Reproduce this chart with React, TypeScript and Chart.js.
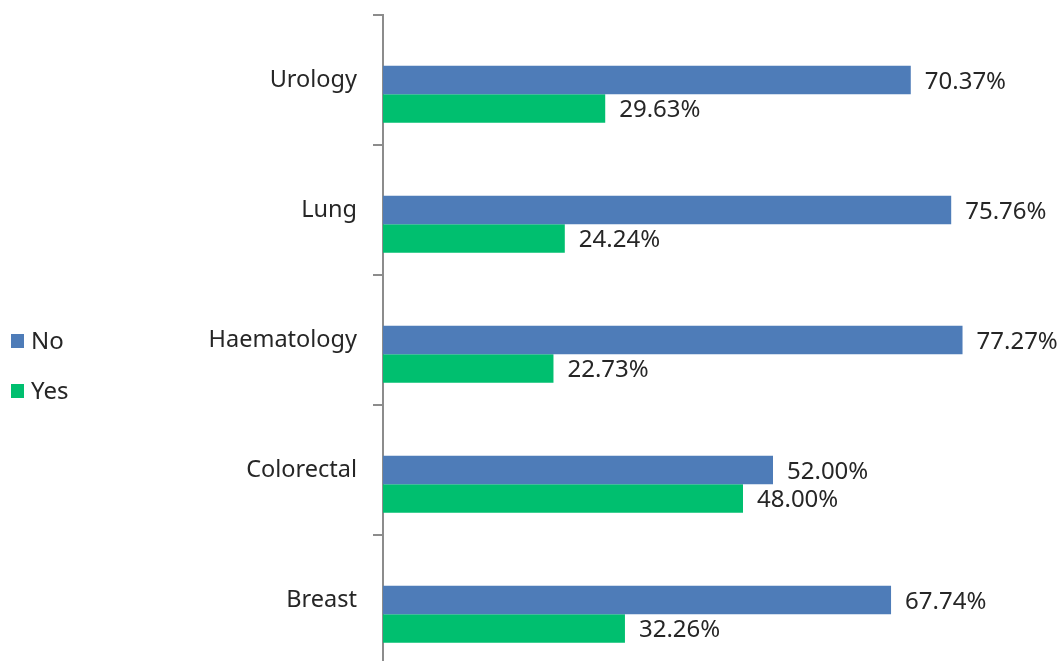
import React, { useEffect, useRef } from 'react';
import { Chart, registerables } from 'chart.js';

Chart.register(...registerables);

const categories = ['Urology', 'Lung', 'Haematology', 'Colorectal', 'Breast'];
const noValues = [70.37, 75.76, 77.27, 52.0, 67.74];
const yesValues = [29.63, 24.24, 22.73, 48.0, 32.26];
const seriesLabels = ['No', 'Yes'];

const BLUE = '#4E7CB8';
const GREEN = '#00BF6F';
const FONT = '"Noto Sans", sans-serif';
const TEXT = '#262626';

const valueLabels = {
  id: 'valueLabels',
  afterDatasetsDraw(chart: any) {
    const ctx = chart.ctx;
    ctx.save();
    ctx.font = `24px ${FONT}`;
    ctx.fillStyle = TEXT;
    ctx.textAlign = 'left';
    ctx.textBaseline = 'middle';
    chart.data.datasets.forEach((ds: any, i: number) => {
      if (!ds.showValues) return;
      const meta = chart.getDatasetMeta(i);
      meta.data.forEach((el: any, j: number) => {
        const v = ds.data[j];
        if (v == null) return;
        ctx.fillText(`${v.toFixed(2)}%`, el.x + 14, el.y + 2);
      });
    });
    ctx.restore();
  },
};

const sideLegend = {
  id: 'sideLegend',
  afterDraw(chart: any) {
    const ctx = chart.ctx;
    ctx.save();
    ctx.font = `24px ${FONT}`;
    ctx.textBaseline = 'middle';
    ctx.textAlign = 'left';
    const items = chart.data.datasets.filter((d: any) => d.showValues);
    items.forEach((ds: any, k: number) => {
      const cy = 341 + k * 50;
      ctx.fillStyle = ds.backgroundColor;
      ctx.fillRect(11, cy - 7, 13, 14);
      ctx.fillStyle = TEXT;
      ctx.fillText(ds.label, 31, cy + 1);
    });
    ctx.restore();
  },
};

export default function App() {
  const ref = useRef<HTMLCanvasElement | null>(null);
  useEffect(() => {
    if (!ref.current) return;
    const chart = new Chart(ref.current, {
      type: 'bar',
      data: {
        labels: categories,
        datasets: [
          { label: '', data: categories.map(() => null), backgroundColor: 'rgba(0,0,0,0)' } as any,
          { label: seriesLabels[0], data: noValues, backgroundColor: BLUE, showValues: true } as any,
          { label: seriesLabels[1], data: yesValues, backgroundColor: GREEN, showValues: true } as any,
        ],
      },
      options: {
        indexAxis: 'y',
        animation: false,
        responsive: false,
        maintainAspectRatio: false,
        datasets: { bar: { categoryPercentage: 0.658, barPercentage: 1 } },
        layout: { padding: { left: 0, right: 6, top: 15, bottom: 5 } },
        plugins: { legend: { display: false }, tooltip: { enabled: false } },
        scales: {
          x: { display: false, min: 0, max: 90 },
          y: {
            afterFit(scale: any) {
              scale.width = 383;
              scale.paddingTop = 0;
              scale.paddingBottom = 0;
            },
            grid: { display: true, drawOnChartArea: false, drawTicks: true, tickLength: 10, color: '#8C8C8C', lineWidth: 2, offset: true },
            border: { display: true, color: '#8C8C8C', width: 2 },
            ticks: { color: TEXT, font: { family: FONT, size: 23.5 }, padding: 16 },
          },
        },
      } as any,
      plugins: [valueLabels, sideLegend],
    });
    return () => chart.destroy();
  }, []);
  return (
    <div style={{ position: 'fixed', left: 0, top: 0, width: 1064, height: 661, overflow: 'hidden', background: '#fff' }}>
      <canvas ref={ref} width={1064} height={670} style={{ display: 'block' }} />
    </div>
  );
}
